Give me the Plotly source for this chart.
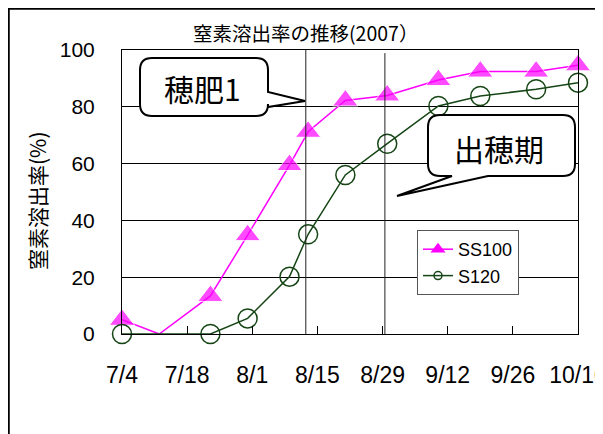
import plotly.graph_objects as go

# ---- data ----
ss100_dates = ["2007-07-04", "2007-07-12", "2007-07-23", "2007-07-31", "2007-08-09", "2007-08-13",
               "2007-08-21", "2007-08-30", "2007-09-10", "2007-09-19", "2007-10-01", "2007-10-10"]
ss100_vals = [5, 0, 13.4, 34.8, 59.5, 71.2, 82.2, 84.0, 89.4, 92.4, 92.4, 94.6]

s120_dates = ["2007-07-04", "2007-07-23", "2007-07-31", "2007-08-09", "2007-08-13",
              "2007-08-21", "2007-08-30", "2007-09-10", "2007-09-19", "2007-10-01", "2007-10-10"]
s120_vals = [0, 0, 5.5, 20.2, 35.1, 56.0, 67.0, 80.3, 83.8, 86.2, 88.5]

tick_dates = ["2007-07-04", "2007-07-18", "2007-08-01", "2007-08-15", "2007-08-29",
              "2007-09-12", "2007-09-26", "2007-10-10"]
tick_labels = ["7/4", "7/18", "8/1", "8/15", "8/29", "9/12", "9/26", "10/10"]
y_ticks = [0, 20, 40, 60, 80, 100]

event_dates = ["2007-08-12 12:00", "2007-08-29 12:00"]   # 穂肥1, 出穂期
event_tops = [101.2, 98.9]

title_text = "窒素溶出率の推移(2007）"
ytitle_text = "窒素溶出率(%)"
callout1_text = "穂肥1"
callout2_text = "出穂期"

# ---- layout geometry (page pixels; the page body has an 8px margin) ----
OFF = 8
PAGE_W, PAGE_H = 603, 434
W, H = PAGE_W - OFF, PAGE_H - OFF
PL, PR, PT, PB = 122, 578, 50, 334          # plot area in page pixels
ML, MR, MT, MB = PL - OFF, W - (PR - OFF), PT - OFF, H - (PB - OFF)
PW, PH = PR - PL, PB - PT


def px(x, y):
    return ((x - PL) / PW, (PB - y) / PH)


def pt(x, y):
    a, b = px(x, y)
    return f"{a:.5f},{b:.5f}"


FONT = "Liberation Sans, Arial, Noto Sans CJK JP"
JFONT = "Noto Sans CJK JP, Liberation Sans"
MAGENTA = "#FF00FF"
GREEN = "#154515"

fig = go.Figure()

sizes1 = [0 if v == 0 else 22 for v in ss100_vals]
fig.add_trace(go.Scatter(
    x=ss100_dates, y=ss100_vals, mode="lines+markers", name="SS100",
    line=dict(color=MAGENTA, width=1.5),
    marker=dict(symbol="triangle-up", size=sizes1, color=MAGENTA),
    showlegend=False, cliponaxis=False))
fig.add_trace(go.Scatter(
    x=s120_dates, y=s120_vals, mode="lines+markers", name="S120",
    line=dict(color=GREEN, width=1.5),
    marker=dict(symbol="circle-open", size=19, color=GREEN, line=dict(width=1.5, color=GREEN)),
    showlegend=False, cliponaxis=False))

# legend entries
fig.add_trace(go.Scatter(
    x=[None], y=[None], mode="lines+markers", name="SS100", legendgroup="a",
    line=dict(color=MAGENTA, width=1.5),
    marker=dict(symbol="triangle-up", size=13, color=MAGENTA)))
fig.add_trace(go.Scatter(
    x=[None], y=[None], mode="lines+markers", name="S120", legendgroup="b",
    line=dict(color=GREEN, width=1.5),
    marker=dict(symbol="circle-open", size=8, color=GREEN, line=dict(width=1.5, color=GREEN))))

shapes = []
# outer chart border
x0, y0 = px(8.5, 8.5)
x1, y1 = px(900, 900)
shapes.append(dict(type="rect", xref="paper", yref="paper", x0=x0, y0=y0, x1=x1, y1=y1,
                   line=dict(color="black", width=2.5), fillcolor="rgba(0,0,0,0)", layer="below"))

# event lines
for d, top in zip(event_dates, event_tops):
    shapes.append(dict(type="line", xref="x", yref="y", x0=d, x1=d, y0=0, y1=top,
                       line=dict(color="#222", width=1)))

# callout 1 (pointer on right side)
bx0, by0, bx1, by1, r = 140, 58, 268, 116, 12
path1 = (f"M{pt(bx0 + r, by0)} L{pt(bx1 - r, by0)} Q{pt(bx1, by0)} {pt(bx1, by0 + r)} "
         f"L{pt(bx1, 92)} L{pt(305, 101)} L{pt(bx1, 107)} "
         f"L{pt(bx1, by1 - r)} Q{pt(bx1, by1)} {pt(bx1 - r, by1)} "
         f"L{pt(bx0 + r, by1)} Q{pt(bx0, by1)} {pt(bx0, by1 - r)} "
         f"L{pt(bx0, by0 + r)} Q{pt(bx0, by0)} {pt(bx0 + r, by0)} Z")
shapes.append(dict(type="path", xref="paper", yref="paper", path=path1,
                   line=dict(color="black", width=2), fillcolor="white", layer="above"))

# callout 2 (pointer on bottom)
cx0, cy0, cx1, cy1 = 428, 115, 575, 176
path2 = (f"M{pt(cx0 + r, cy0)} L{pt(cx1 - r, cy0)} Q{pt(cx1, cy0)} {pt(cx1, cy0 + r)} "
         f"L{pt(cx1, cy1 - r)} Q{pt(cx1, cy1)} {pt(cx1 - r, cy1)} "
         f"L{pt(488, cy1)} L{pt(397, 196)} L{pt(452, cy1)} "
         f"L{pt(cx0 + r, cy1)} Q{pt(cx0, cy1)} {pt(cx0, cy1 - r)} "
         f"L{pt(cx0, cy0 + r)} Q{pt(cx0, cy0)} {pt(cx0 + r, cy0)} Z")
shapes.append(dict(type="path", xref="paper", yref="paper", path=path2,
                   line=dict(color="black", width=2), fillcolor="white", layer="above"))

annotations = []
tx, ty = px(305, 32)
annotations.append(dict(text=title_text, x=tx, y=ty, xref="paper", yref="paper",
                        showarrow=False, xanchor="center", yanchor="middle",
                        font=dict(family=JFONT, size=19.5, color="black")))
ax_, ay_ = px(37, 201)
annotations.append(dict(text=ytitle_text, x=ax_, y=ay_, xref="paper", yref="paper",
                        showarrow=False, xanchor="center", yanchor="middle", textangle=-90,
                        font=dict(family=JFONT, size=21, color="black")))
c1x, c1y = px(202, 88)
annotations.append(dict(text=callout1_text, x=c1x, y=c1y, xref="paper", yref="paper",
                        showarrow=False, xanchor="center", yanchor="middle",
                        font=dict(family=JFONT, size=30, color="black")))
c2x, c2y = px(499, 148)
annotations.append(dict(text=callout2_text, x=c2x, y=c2y, xref="paper", yref="paper",
                        showarrow=False, xanchor="center", yanchor="middle",
                        font=dict(family=JFONT, size=30, color="black")))

lx, ly = px(417, 230)
fig.update_layout(
    width=W, height=H,
    margin=dict(l=ML, r=MR, t=MT, b=MB, pad=0, autoexpand=False),
    paper_bgcolor="white", plot_bgcolor="white",
    shapes=shapes, annotations=annotations,
    legend=dict(x=lx, y=ly, xanchor="left", yanchor="top",
                bgcolor="white", bordercolor="#555", borderwidth=1,
                font=dict(family=FONT, size=18, color="black"),
                tracegroupgap=0, traceorder="grouped", itemwidth=30),
    xaxis=dict(type="date", range=[tick_dates[0], tick_dates[-1]],
               tickmode="array", tickvals=tick_dates, ticktext=tick_labels,
               ticks="inside", ticklen=8, tickcolor="black", tickwidth=1,
               showgrid=False, zeroline=False, automargin=False,
               showline=True, linecolor="black", linewidth=1, mirror=True,
               tickfont=dict(family=FONT, size=23, color="black"),
               ticklabelstandoff=20, ticklabeloverflow="allow"),
    yaxis=dict(range=[0, 100], tickmode="array", tickvals=y_ticks,
               showgrid=True, gridcolor="black", gridwidth=1, automargin=False,
               zeroline=False, showline=True, linecolor="black", linewidth=1, mirror=True,
               ticks="", tickfont=dict(family=FONT, size=21, color="black"),
               ticklabelstandoff=22),
)

fig.write_html("out.html")
